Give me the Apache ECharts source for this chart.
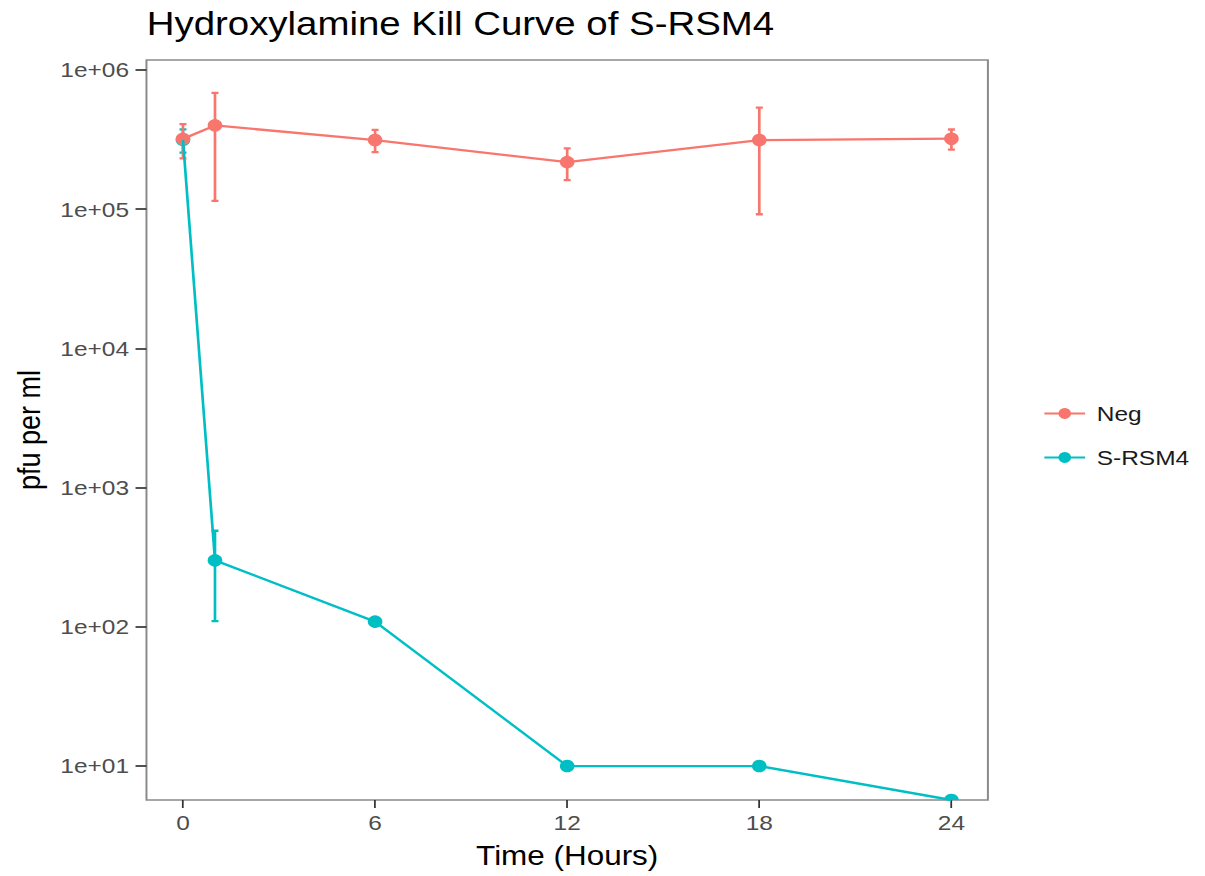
<!DOCTYPE html>
<html>
<head>
<meta charset="utf-8">
<title>Hydroxylamine Kill Curve of S-RSM4</title>
<script src="https://cdn.jsdelivr.net/npm/echarts@6/dist/echarts.min.js"></script>
<style>
  html, body { margin: 0; padding: 0; background: #ffffff; overflow: hidden; }
  /* the figure is laid out on a narrower canvas and widened horizontally */
  #chart { width: 1035px; height: 876px; transform: scaleX(1.1643); transform-origin: 0 0; }
</style>
</head>
<body>
<div id="chart"></div>
<script>
// sampling times (hours)
const hours = [0, 1, 6, 12, 18, 24];

// negative control: mean pfu/ml and standard deviation
const negMean = [3.2e5, 4.0e5, 3.14e5, 2.18e5, 3.14e5, 3.21e5];
const negSd   = [8.8e4, 2.85e5, 5.7e4, 5.6e4, 2.22e5, 5.3e4];

// S-RSM4 treated with hydroxylamine: mean pfu/ml and standard deviation
const srsmMean = [3.15e5, 300, 109, 10, 10, 0];
const srsmSd   = [6.0e4, 190, 0, 0, 0, 0];

// axis ticks
const xTicks = [0, 6, 12, 18, 24];
const yTicks = [1e1, 1e2, 1e3, 1e4, 1e5, 1e6];
const yTickLabels = ['1e+01', '1e+02', '1e+03', '1e+04', '1e+05', '1e+06'];

// y range on the log scale (decades)
const yMin = Math.pow(10, 0.756);
const yMax = Math.pow(10, 6.072);

const NEG_COLOR = '#F8766D';
const SRSM_COLOR = '#00BFC4';
const FONT = "'Liberation Sans', Arial, Helvetica, sans-serif";
const LINE_W = 2.3;

// a zero count cannot sit on a log axis; it is pinned to the bottom edge
const onLog = v => (v > 0 ? v : yMin);

function lineData(mean) {
  return hours.map((h, i) => [h, onLog(mean[i])]);
}
function barData(mean, sd) {
  return hours.map((h, i) => [h, onLog(mean[i]), sd[i]]);
}

// point with a mean +/- sd error bar
function pointWithError(color) {
  return function (params, api) {
    const x = api.value(0);
    const m = api.value(1);
    const sd = api.value(2);
    const c = api.coord([x, m]);
    const children = [];
    if (sd > 0) {
      const top = api.coord([x, m + sd]);
      const bot = api.coord([x, Math.max(m - sd, yMin)]);
      const cap = 3;
      const st = { stroke: color, lineWidth: LINE_W };
      children.push({ type: 'line', shape: { x1: top[0], y1: top[1], x2: bot[0], y2: bot[1] }, style: st });
      children.push({ type: 'line', shape: { x1: top[0] - cap, y1: top[1], x2: top[0] + cap, y2: top[1] }, style: st });
      children.push({ type: 'line', shape: { x1: bot[0] - cap, y1: bot[1], x2: bot[0] + cap, y2: bot[1] }, style: st });
    }
    children.push({ type: 'circle', shape: { cx: c[0], cy: c[1], r: 6.3 }, style: { fill: color } });
    return { type: 'group', children: children };
  };
}

const chart = echarts.init(document.getElementById('chart'), null, { renderer: 'svg' });

chart.setOption({
  animation: false,
  backgroundColor: '#ffffff',
  textStyle: { fontFamily: FONT },
  title: {
    text: 'Hydroxylamine Kill Curve of S-RSM4',
    left: 126,
    top: 7,
    padding: 0,
    textStyle: { fontFamily: FONT, fontSize: 33, fontWeight: 'normal', color: '#000000' }
  },
  legend: {
    data: ['Neg', 'S-RSM4'],
    orient: 'vertical',
    left: 896,
    top: 403,
    padding: 0,
    itemWidth: 35,
    itemHeight: 13.5,
    itemGap: 23,
    selectedMode: false,
    textStyle: { fontFamily: FONT, fontSize: 21, color: '#1a1a1a', padding: [0, 0, 0, 5] }
  },
  grid: {
    left: 125.8,
    right: 186.5,
    top: 60,
    bottom: 76,
    show: true,
    borderColor: '#8a8a8a',
    borderWidth: 1.7,
    backgroundColor: '#ffffff'
  },
  xAxis: {
    type: 'value',
    min: -1.14,
    max: 25.14,
    name: 'Time (Hours)',
    nameLocation: 'middle',
    nameGap: 42,
    nameTextStyle: { fontFamily: FONT, fontSize: 27, color: '#000000' },
    axisLine: { show: false, onZero: false },
    splitLine: { show: false },
    axisTick: { show: true, length: 8, customValues: xTicks, lineStyle: { color: '#333333', width: 1.5 } },
    axisLabel: { customValues: xTicks, margin: 12, fontFamily: FONT, fontSize: 21, color: '#4d4d4d' }
  },
  yAxis: {
    type: 'log',
    logBase: 10,
    min: yMin,
    max: yMax,
    name: 'pfu per ml',
    nameLocation: 'middle',
    nameRotate: 90,
    nameGap: 88,
    nameTextStyle: { fontFamily: FONT, fontSize: 27, color: '#000000' },
    axisLine: { show: false, onZero: false },
    splitLine: { show: false },
    axisTick: { show: true, length: 9.4, customValues: yTicks, lineStyle: { color: '#333333', width: 1.7 } },
    axisLabel: {
      customValues: yTicks,
      margin: 15,
      fontFamily: FONT,
      fontSize: 21,
      color: '#4d4d4d',
      formatter: function (v) {
        const i = yTicks.findIndex(t => Math.abs(Math.log10(t) - Math.log10(v)) < 1e-6);
        return i >= 0 ? yTickLabels[i] : '';
      }
    }
  },
  series: [
    {
      name: 'Neg', type: 'line', data: lineData(negMean),
      symbol: 'circle', showSymbol: false, silent: true, clip: true,
      lineStyle: { color: NEG_COLOR, width: LINE_W }, itemStyle: { color: NEG_COLOR }
    },
    {
      name: 'S-RSM4', type: 'line', data: lineData(srsmMean),
      symbol: 'circle', showSymbol: false, silent: true, clip: true,
      lineStyle: { color: SRSM_COLOR, width: LINE_W }, itemStyle: { color: SRSM_COLOR }
    },
    {
      name: 'S-RSM4', type: 'custom', data: barData(srsmMean, srsmSd),
      renderItem: pointWithError(SRSM_COLOR), clip: true, silent: true,
      encode: { x: 0, y: 1 }
    },
    {
      name: 'Neg', type: 'custom', data: barData(negMean, negSd),
      renderItem: pointWithError(NEG_COLOR), clip: true, silent: true,
      encode: { x: 0, y: 1 }
    }
  ]
});
</script>
</body>
</html>
